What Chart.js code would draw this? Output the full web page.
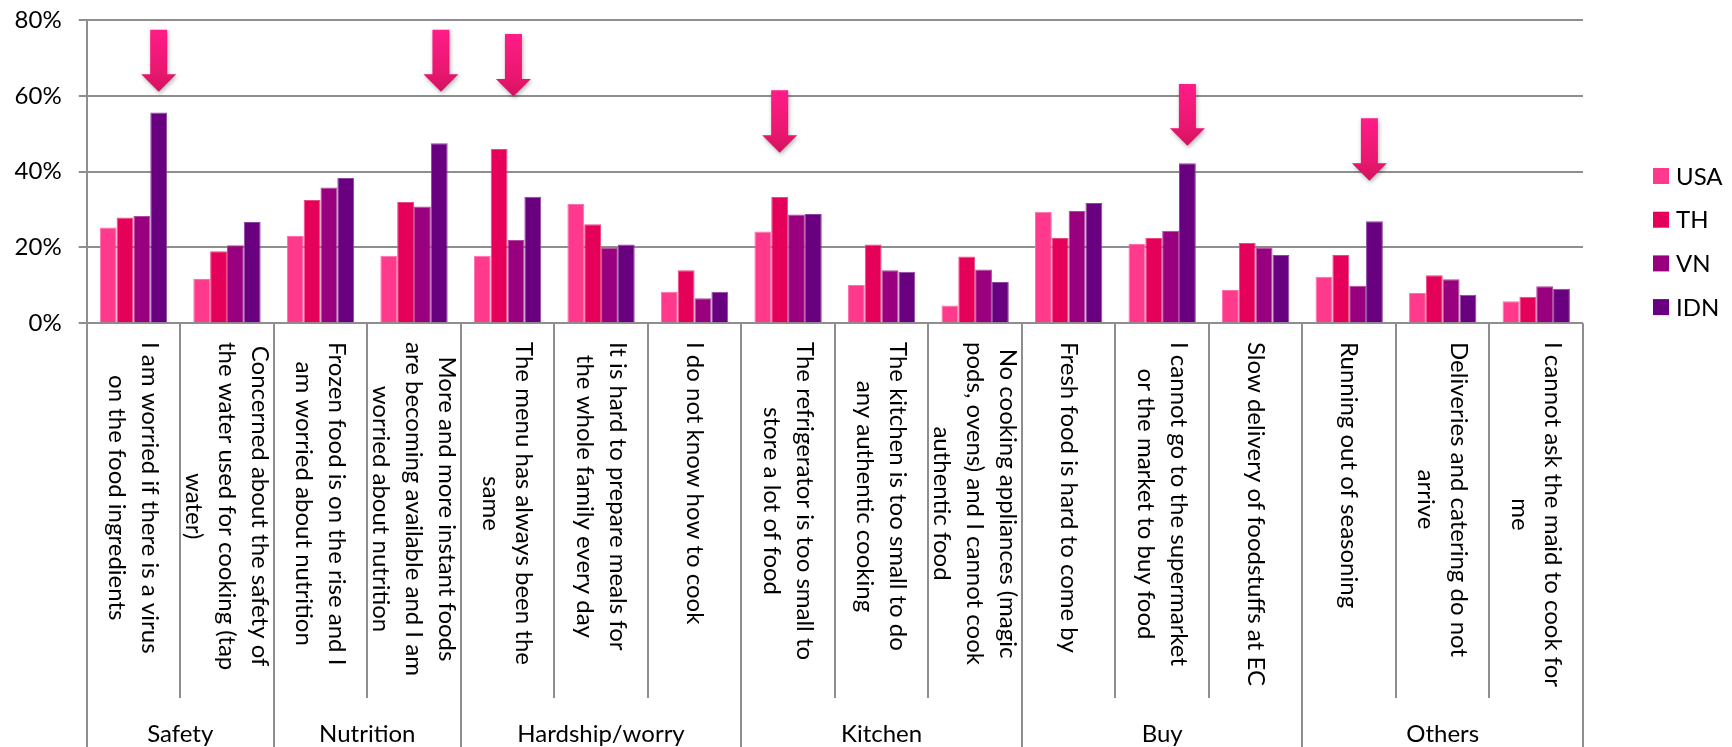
<!DOCTYPE html>
<html>
<head>
<meta charset="utf-8">
<script src="https://cdn.jsdelivr.net/npm/chart.js@4.4.1/dist/chart.umd.min.js"></script>
<style>
  html, body { margin: 0; padding: 0; background: #fff; }
  #wrap { width: 1732px; height: 747px; position: relative; }
</style>
</head>
<body>
<div id="wrap"><canvas id="concernChart"></canvas></div>
<script>
// answers per country, % of respondents
const categories = [
  ['I am worried if there is a virus', 'on the food ingredients'],
  ['Concerned about the safety of', 'the water used for cooking (tap', 'water)'],
  ['Frozen food is on the rise and I', 'am worried about nutrition'],
  ['More and more instant foods', 'are becoming available and I am', 'worried about nutrition'],
  ['The menu has always been the', 'same'],
  ['It is hard to prepare meals for', 'the whole family every day'],
  ['I do not know how to cook'],
  ['The refrigerator is too small to', 'store a lot of food'],
  ['The kitchen is too small to do', 'any authentic cooking'],
  ['No cooking appliances (magic', 'pods, ovens) and I cannot cook', 'authentic food'],
  ['Fresh food is hard to come by'],
  ['I cannot go to the supermarket', 'or the market to buy food'],
  ['Slow delivery of foodstuffs at EC'],
  ['Running out of seasoning'],
  ['Deliveries and catering do not', 'arrive'],
  ['I cannot ask the maid to cook for', 'me']
];
const groups = ['Safety', 'Nutrition', 'Hardship/worry', 'Kitchen', 'Buy', 'Others'];
const group_sizes = [2, 2, 3, 3, 3, 3];

const usa = [25.3, 11.7, 23.0, 17.8, 17.8, 31.5, 8.3, 24.2, 10.1, 4.7, 29.4, 20.9, 8.8, 12.3, 8.0, 5.8];
const th  = [27.9, 19.0, 32.5, 32.0, 46.0, 26.1, 14.0, 33.3, 20.8, 17.6, 22.5, 22.5, 21.2, 18.0, 12.7, 7.0];
const vn  = [28.3, 20.6, 35.8, 30.8, 22.0, 20.0, 6.6, 28.7, 14.0, 14.2, 29.6, 24.4, 20.0, 9.9, 11.6, 9.8];
const idn = [55.6, 26.7, 38.3, 47.5, 33.4, 20.8, 8.3, 28.8, 13.6, 10.9, 31.7, 42.2, 18.0, 26.9, 7.5, 9.1];

const y_ticks = [0, 20, 40, 60, 80];

// highlight arrows: category, shift from category centre in bar widths, top and tip on the % axis
const arrow_cats  = [0, 3, 4, 7, 11, 13];
const arrow_shift = [1.5, 1.6, 0.35, -0.5, 1.5, 1.2];
const arrow_top   = [77.4, 77.4, 76.3, 61.5, 63.1, 54.1];
const arrow_tip   = [61.1, 61.1, 59.8, 45.0, 46.8, 37.6];

const FONT_FAMILY = 'Lato, "Noto Sans", sans-serif';
const FONT_SIZE = 24;
const GRID = '#8e8e8e';

Chart.defaults.font.family = FONT_FAMILY;
Chart.defaults.font.size = FONT_SIZE;
Chart.defaults.color = '#000';

function drawArrow(ctx, cx, yTop, yTip) {
  const shaft = 8.5, head = 17.5, headLen = 17.5;
  const yHead = yTip - headLen;
  ctx.save();
  const grad = ctx.createLinearGradient(0, yTop, 0, yTip);
  grad.addColorStop(0, '#ff1c87');
  grad.addColorStop(0.7, '#e8176f');
  grad.addColorStop(1, '#d3125f');
  ctx.fillStyle = grad;
  ctx.shadowColor = 'rgba(0,0,0,0.3)';
  ctx.shadowBlur = 4;
  ctx.shadowOffsetX = 1;
  ctx.shadowOffsetY = 2;
  ctx.beginPath();
  ctx.moveTo(cx - shaft, yTop);
  ctx.lineTo(cx + shaft, yTop);
  ctx.lineTo(cx + shaft, yHead);
  ctx.lineTo(cx + head, yHead);
  ctx.lineTo(cx, yTip);
  ctx.lineTo(cx - head, yHead);
  ctx.lineTo(cx - shaft, yHead);
  ctx.closePath();
  ctx.fill();
  ctx.restore();
}

// category text box under the plot, group row, legend and arrows
const category_box = {
  id: 'categoryBox',
  afterDraw(chart) {
    const {ctx, chartArea, scales: {x, y}} = chart;
    const n = chart.data.labels.length;
    const base = y.getPixelForValue(0);
    const bottom = chart.height;
    const tickBottom = 698;
    const labelTop = 342;
    const lineGap = 33;

    const edge = i => i === 0 ? chartArea.left : i === n ? chartArea.right
      : (x.getPixelForValue(i - 1) + x.getPixelForValue(i)) / 2;

    const groupEdges = [0];
    group_sizes.forEach(s => groupEdges.push(groupEdges[groupEdges.length - 1] + s));

    ctx.save();
    ctx.strokeStyle = GRID;
    ctx.lineWidth = 2;
    for (let i = 0; i <= n; i++) {
      const px = Math.round(edge(i));
      ctx.beginPath();
      ctx.moveTo(px, base);
      ctx.lineTo(px, groupEdges.includes(i) ? bottom : tickBottom);
      ctx.stroke();
    }

    // rotated category labels, read top to bottom
    ctx.fillStyle = '#000';
    ctx.font = FONT_SIZE + 'px ' + FONT_FAMILY;
    ctx.textAlign = 'center';
    ctx.textBaseline = 'middle';
    chart.data.labels.forEach((lines, i) => {
      const cx = x.getPixelForValue(i);
      const w = Math.max(...lines.map(l => ctx.measureText(l).width));
      ctx.save();
      ctx.translate(cx, labelTop);
      ctx.rotate(Math.PI / 2);
      lines.forEach((l, k) => {
        ctx.fillText(l, w / 2, (k - (lines.length - 1) / 2) * lineGap);
      });
      ctx.restore();
    });

    // group names
    groups.forEach((g, k) => {
      const mid = (edge(groupEdges[k]) + edge(groupEdges[k + 1])) / 2;
      ctx.fillText(g, mid, 734);
    });

    // legend
    ctx.textAlign = 'left';
    chart.data.datasets.forEach((ds, k) => {
      const cy = 176 + k * 43.7;
      const lx = chartArea.right + 70;
      ctx.fillStyle = ds.backgroundColor;
      ctx.fillRect(lx, cy - 8, 16, 16);
      ctx.fillStyle = '#000';
      ctx.fillText(ds.label, lx + 23, cy + 1);
    });
    ctx.restore();

    // arrows over the highlighted bars
    const barW = chart.getDatasetMeta(0).data[0].width;
    arrow_cats.forEach((c, k) => {
      const cx = x.getPixelForValue(c) + arrow_shift[k] * barW;
      drawArrow(ctx, cx, y.getPixelForValue(arrow_top[k]), y.getPixelForValue(arrow_tip[k]));
    });
  }
};

const concern_data = {
  labels: categories,
  datasets: [{
    label: 'USA',
    data: usa,
    backgroundColor: '#ff3a8c',
    borderColor: '#ff6eab',
    borderWidth: 1
  }, {
    label: 'TH',
    data: th,
    backgroundColor: '#e5005a',
    borderColor: '#ee4583',
    borderWidth: 1
  }, {
    label: 'VN',
    data: vn,
    backgroundColor: '#99007d',
    borderColor: '#b2479d',
    borderWidth: 1
  }, {
    label: 'IDN',
    data: idn,
    backgroundColor: '#680080',
    borderColor: '#8a45a0',
    borderWidth: 1
  }]
};

const concern_config = {
  type: 'bar',
  data: concern_data,
  options: {
    responsive: true,
    maintainAspectRatio: false,
    animation: false,
    layout: { padding: { top: 20, right: 149, left: 0, bottom: 0 } },
    datasets: { bar: { categoryPercentage: 0.72, barPercentage: 1.0 } },
    plugins: {
      legend: { display: false },
      tooltip: { enabled: false }
    },
    scales: {
      x: {
        offset: true,
        grid: { display: false },
        border: { display: false },
        ticks: { display: false },
        afterFit(scale) { scale.height = 747 - 323.3; }
      },
      y: {
        min: 0,
        max: 80,
        afterBuildTicks(scale) { scale.ticks = y_ticks.map(v => ({ value: v })); },
        ticks: {
          padding: 17,
          callback: v => v + '%'
        },
        grid: { color: GRID, lineWidth: 2, tickLength: 8 },
        border: { color: GRID, width: 2 },
        afterFit(scale) {
          scale.width = 86.7;
          // the top label may overhang the plot; keep the plot top fixed
          scale.paddingTop = 0;
          scale.paddingBottom = 0;
        }
      }
    }
  },
  plugins: [category_box]
};

const concern_chart = new Chart(
  document.getElementById('concernChart'),
  concern_config
);
</script>
</body>
</html>
